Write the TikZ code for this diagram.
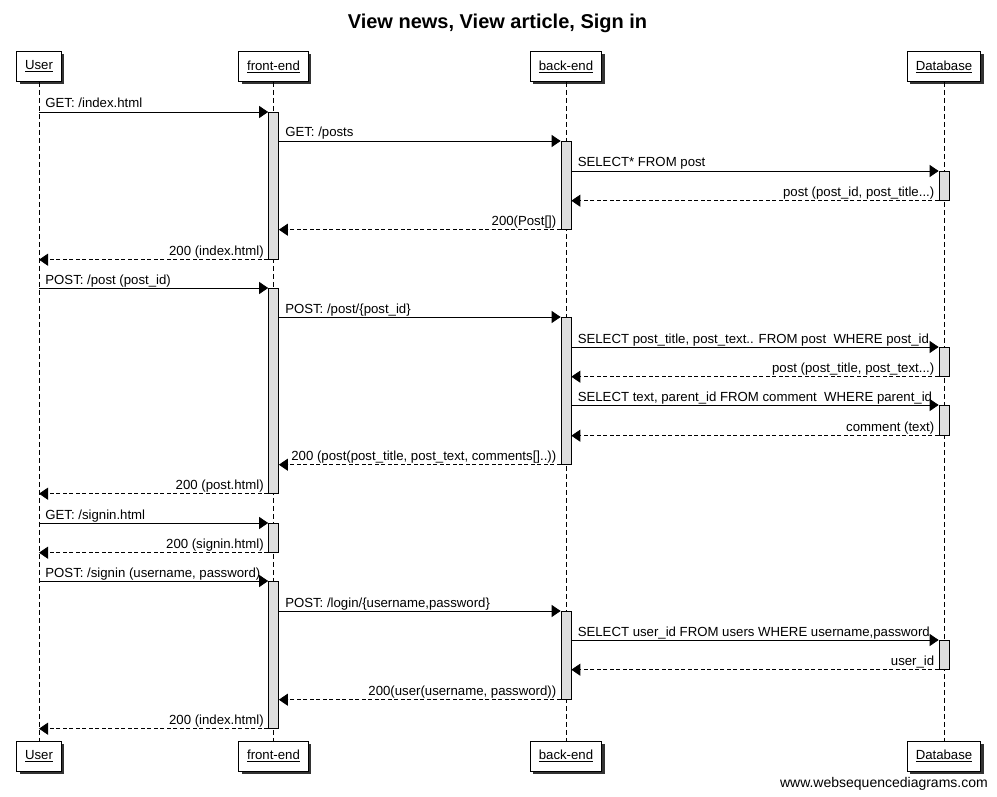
\documentclass[tikz,border=0pt]{standalone}
\usepackage{fontspec}
\setmainfont{Liberation Sans}
\usetikzlibrary{arrows.meta,shadows}
\begin{document}
\begin{tikzpicture}[x=1pt,y=-1pt,
  every node/.style={font=\fontsize{13.2}{15}\selectfont},
  part/.style={draw=black, fill=white, line width=0.8pt, inner xsep=8.5pt, minimum height=30pt,
    drop shadow={shadow xshift=3pt, shadow yshift=-3pt, fill=black!80, opacity=1}},
  life/.style={draw=black, line width=0.6pt, dash pattern=on 5pt off 3pt},
  act/.style={draw=black, fill=black!13, line width=0.7pt, minimum width=10pt, inner sep=0pt, anchor=north},
  msg/.style={draw=black, line width=0.8pt, -{Triangle[length=9pt,width=12pt]}},
  ret/.style={msg, dash pattern=on 4pt off 2.5pt},
  fl/.style={anchor=base west, xshift=6pt, yshift=4pt, inner sep=0pt},
  rl/.style={anchor=base east, xshift=-4pt, yshift=4pt, inner sep=0pt}
]
\useasboundingbox (0,0) rectangle (997,797);
% title and footer
\node[anchor=base, font=\fontsize{20}{24}\selectfont\bfseries] (title) at (497.5,29) {View news, View article, Sign in};
\node[anchor=base east, font=\fontsize{14}{16}\selectfont, inner sep=0pt] (footer) at (988,787) {www.websequencediagrams.com};
% participants
\node[part] (uT) at (39,66.5) {\underline{User}};
\node[part] (fT) at (273.5,66.5) {\underline{front-end}};
\node[part] (bT) at (566,66.5) {\underline{back-end}};
\node[part] (dT) at (944,66.5) {\underline{Database}};
\node[part] (uB) at (39,756) {\underline{User}};
\node[part] (fB) at (273.5,756) {\underline{front-end}};
\node[part] (bB) at (566,756) {\underline{back-end}};
\node[part] (dB) at (944,756) {\underline{Database}};
% lifelines
\draw[life] (uT) -- (uB);
\draw[life] (fT) -- (fB);
\draw[life] (bT) -- (bB);
\draw[life] (dT) -- (dB);
% activations
\node[act, minimum height=147pt] (fa1) at (273.5,112) {};
\node[act, minimum height=88pt] (ba1) at (566,141) {};
\node[act, minimum height=29pt] (da1) at (944,171) {};
\node[act, minimum height=205pt] (fa2) at (273.5,288) {};
\node[act, minimum height=147pt] (ba2) at (566,317) {};
\node[act, minimum height=29pt] (da2) at (944,347) {};
\node[act, minimum height=30pt] (da3) at (944,405) {};
\node[act, minimum height=29pt] (fa3) at (273.5,523) {};
\node[act, minimum height=147pt] (fa4) at (273.5,581) {};
\node[act, minimum height=88pt] (ba3) at (566,611) {};
\node[act, minimum height=29pt] (da4) at (944,640) {};
% messages
\draw[msg] (uT |- fa1.north) -- node[pos=0,fl] {GET: /index.html} (fa1.north west);
\draw[msg] (fa1.east |- ba1.north) -- node[pos=0,fl] {GET: /posts} (ba1.north west);
\draw[msg] (ba1.east |- da1.north) -- node[pos=0,fl] {SELECT* FROM post} (da1.north west);
\draw[ret] (da1.south west) -- node[pos=0,rl] {post (post\_id, post\_title...)} (ba1.east |- da1.south);
\draw[ret] (ba1.south west) -- node[pos=0,rl] {200(Post[])} (fa1.east |- ba1.south);
\draw[ret] (fa1.south west) -- node[pos=0,rl] {200 (index.html)} (uT |- fa1.south);
\draw[msg] (uT |- fa2.north) -- node[pos=0,fl] {POST: /post (post\_id)} (fa2.north west);
\draw[msg] (fa2.east |- ba2.north) -- node[pos=0,fl] {POST: /post/\{post\_id\}} (ba2.north west);
\draw[msg] (ba2.east |- da2.north) -- node[pos=0,fl] {SELECT post\_title, post\_text.. FROM post\ \ WHERE post\_id} (da2.north west);
\draw[ret] (da2.south west) -- node[pos=0,rl] {post (post\_title, post\_text...)} (ba2.east |- da2.south);
\draw[msg] (ba2.east |- da3.north) -- node[pos=0,fl] {SELECT text, parent\_id FROM comment\ \ WHERE parent\_id} (da3.north west);
\draw[ret] (da3.south west) -- node[pos=0,rl] {comment (text)} (ba2.east |- da3.south);
\draw[ret] (ba2.south west) -- node[pos=0,rl] {200 (post(post\_title, post\_text, comments[]..))} (fa2.east |- ba2.south);
\draw[ret] (fa2.south west) -- node[pos=0,rl] {200 (post.html)} (uT |- fa2.south);
\draw[msg] (uT |- fa3.north) -- node[pos=0,fl] {GET: /signin.html} (fa3.north west);
\draw[ret] (fa3.south west) -- node[pos=0,rl] {200 (signin.html)} (uT |- fa3.south);
\draw[msg] (uT |- fa4.north) -- node[pos=0,fl] {POST: /signin (username, password)} (fa4.north west);
\draw[msg] (fa4.east |- ba3.north) -- node[pos=0,fl] {POST: /login/\{username,password\}} (ba3.north west);
\draw[msg] (ba3.east |- da4.north) -- node[pos=0,fl] {SELECT user\_id FROM users WHERE username,password} (da4.north west);
\draw[ret] (da4.south west) -- node[pos=0,rl] {user\_id} (ba3.east |- da4.south);
\draw[ret] (ba3.south west) -- node[pos=0,rl] {200(user(username, password))} (fa4.east |- ba3.south);
\draw[ret] (fa4.south west) -- node[pos=0,rl] {200 (index.html)} (uT |- fa4.south);
\end{tikzpicture}
\end{document}
